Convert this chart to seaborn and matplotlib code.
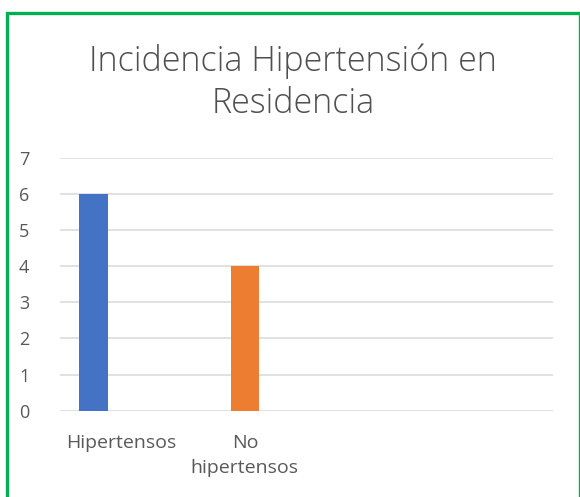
import matplotlib
matplotlib.use("Agg")
import matplotlib.pyplot as plt
from matplotlib.patches import Rectangle
import seaborn as sns
import pandas as pd

categories = ["Hipertensos", "No\nhipertensos"]
series_names = ["Serie1", "Serie2", "Serie3"]
serie1 = [6, 0]
serie2 = [0, 4]
serie3 = [0, 0]
yticks = [0, 1, 2, 3, 4, 5, 6, 7]
title = "Incidencia Hipertensión en\nResidencia"
colors = ["#4472C4", "#ED7D31", "#A5A5A5"]

rows = []
for name, vals in zip(series_names, [serie1, serie2, serie3]):
    for c, v in zip(categories, vals):
        rows.append({"cat": c, "serie": name, "val": v})
df = pd.DataFrame(rows)

sns.set_style("white")
plt.rcParams["font.family"] = ["Open Sans", "DejaVu Sans"]

fig = plt.figure(figsize=(5.8, 4.97), dpi=100)
ax = fig.add_axes([60 / 580, 1 - 410.7 / 497, (553 - 60) / 580, (410.7 - 157.7) / 497])

sns.barplot(data=df, x="cat", y="val", hue="serie", order=categories,
            hue_order=series_names, palette=colors, width=0.685,
            saturation=1, linewidth=0, ax=ax, legend=False)

ax.set_xlim(-0.5, 3.5)
ax.set_ylim(0, 7)
ax.set_yticks(yticks)
ax.set_yticklabels([str(t) for t in yticks])
ax.grid(axis="y", color="#D9D9D9", linewidth=1.1)
ax.set_axisbelow(True)
for s in ax.spines.values():
    s.set_visible(False)
ax.set_xlabel("")
ax.set_ylabel("")
ax.tick_params(axis="y", length=0, pad=22, labelsize=13, labelcolor="#595959")
ax.tick_params(axis="x", length=0, pad=17, labelsize=14, labelcolor="#595959")
for lbl in ax.get_xticklabels():
    lbl.set_linespacing(1.45)

fig.text(293 / 580, 1 - 82 / 497, title, ha="center", va="center",
         fontsize=24.5, color="#505050", linespacing=1.3, fontweight="light")

fig.patches.append(Rectangle((7 / 580, -0.05), (579.5 - 7) / 580, 1.05 - 12.5 / 497,
                             transform=fig.transFigure, fill=False,
                             edgecolor="#00B050", linewidth=2.4, clip_on=False))

fig.savefig("out.png", dpi=100)
